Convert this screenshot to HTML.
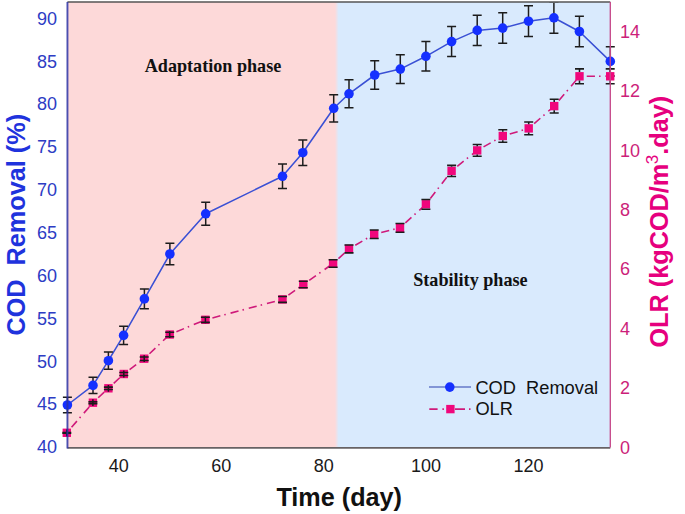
<!DOCTYPE html><html><head><meta charset="utf-8"><style>
html,body{margin:0;padding:0;background:#fff;overflow:hidden;}
svg{display:block;}
.t{font-family:"Liberation Sans",sans-serif;}
.s{font-family:"Liberation Serif",serif;font-weight:bold;}
</style></head><body>
<svg width="685" height="514" viewBox="0 0 685 514">
<defs><clipPath id="c"><rect x="40" y="2.6" width="620" height="470"/></clipPath><linearGradient id="bg" gradientUnits="userSpaceOnUse" x1="335" y1="0" x2="338.6" y2="0"><stop offset="0" stop-color="#fdd9d9"/><stop offset="1" stop-color="#d9eafd"/></linearGradient></defs>
<rect x="67.4" y="2" width="542.9" height="445.6" fill="url(#bg)"/>
<text class="s" x="144.7" y="71.6" font-size="18.15" fill="#111">Adaptation phase</text>
<text class="s" x="413.2" y="286" font-size="18.15" fill="#111">Stability phase</text>
<g clip-path="url(#c)">
<polyline points="67.4,405 93,385.4 108.4,360.7 123.6,335.4 144.4,298.9 169.9,254 205.7,213.8 282.5,176.3 302.8,152.7 333.7,108.3 349,93.8 374.7,75 400.3,69.1 425.9,56.3 451.6,41.6 477.2,30.4 502.7,28.1 528.5,21.2 553.9,17.8 579.4,31.5 610.3,61.4" fill="none" stroke="#3a50d4" stroke-width="1.55" stroke-linejoin="round"/>
<path d="M67.4,397.29V412.71M62.9,397.29H71.9M62.9,412.71H71.9M93,377.3V393.5M88.5,377.3H97.5M88.5,393.5H97.5M108.4,352.11V369.29M103.9,352.11H112.9M103.9,369.29H112.9M123.6,326.3V344.5M119.1,326.3H128.1M119.1,344.5H128.1M144.4,289.07V308.73M139.9,289.07H148.9M139.9,308.73H148.9M169.9,243.27V264.73M165.4,243.27H174.4M165.4,264.73H174.4M205.7,202.27V225.33M201.2,202.27H210.2M201.2,225.33H210.2M282.5,164.02V188.58M278,164.02H287M278,188.58H287M302.8,139.95V165.45M298.3,139.95H307.3M298.3,165.45H307.3M333.7,94.66V121.94M329.2,94.66H338.2M329.2,121.94H338.2M349,79.87V107.73M344.5,79.87H353.5M344.5,107.73H353.5M374.7,60.69V89.31M370.2,60.69H379.2M370.2,89.31H379.2M400.3,54.67V83.53M395.8,54.67H404.8M395.8,83.53H404.8M425.9,41.62V70.98M421.4,41.62H430.4M421.4,70.98H430.4M451.6,26.62V56.58M447.1,26.62H456.1M447.1,56.58H456.1M477.2,15.2V45.6M472.7,15.2H481.7M472.7,45.6H481.7M502.7,12.85V43.35M498.2,12.85H507.2M498.2,43.35H507.2M528.5,5.82V36.58M524,5.82H533M524,36.58H533M553.9,2.35V33.25M549.4,2.35H558.4M549.4,33.25H558.4M579.4,16.32V46.68M574.9,16.32H583.9M574.9,46.68H583.9M610.3,46.82V75.98M605.8,46.82H614.8M605.8,75.98H614.8" stroke="#1c1c1c" stroke-width="1.5" fill="none"/>
<circle cx="67.4" cy="405" r="4.8" fill="#1530ff"/>
<circle cx="93" cy="385.4" r="4.8" fill="#1530ff"/>
<circle cx="108.4" cy="360.7" r="4.8" fill="#1530ff"/>
<circle cx="123.6" cy="335.4" r="4.8" fill="#1530ff"/>
<circle cx="144.4" cy="298.9" r="4.8" fill="#1530ff"/>
<circle cx="169.9" cy="254" r="4.8" fill="#1530ff"/>
<circle cx="205.7" cy="213.8" r="4.8" fill="#1530ff"/>
<circle cx="282.5" cy="176.3" r="4.8" fill="#1530ff"/>
<circle cx="302.8" cy="152.7" r="4.8" fill="#1530ff"/>
<circle cx="333.7" cy="108.3" r="4.8" fill="#1530ff"/>
<circle cx="349" cy="93.8" r="4.8" fill="#1530ff"/>
<circle cx="374.7" cy="75" r="4.8" fill="#1530ff"/>
<circle cx="400.3" cy="69.1" r="4.8" fill="#1530ff"/>
<circle cx="425.9" cy="56.3" r="4.8" fill="#1530ff"/>
<circle cx="451.6" cy="41.6" r="4.8" fill="#1530ff"/>
<circle cx="477.2" cy="30.4" r="4.8" fill="#1530ff"/>
<circle cx="502.7" cy="28.1" r="4.8" fill="#1530ff"/>
<circle cx="528.5" cy="21.2" r="4.8" fill="#1530ff"/>
<circle cx="553.9" cy="17.8" r="4.8" fill="#1530ff"/>
<circle cx="579.4" cy="31.5" r="4.8" fill="#1530ff"/>
<circle cx="610.3" cy="61.4" r="4.8" fill="#1530ff"/>
<path d="M66.8,432.8L92.9,402.7" fill="none" stroke="#cf1a7a" stroke-width="1.6" stroke-dasharray="8.2 4.1 1.5 5.0" stroke-dashoffset="11.55"/>
<path d="M92.9,402.7L108.4,388.3" fill="none" stroke="#cf1a7a" stroke-width="1.6" stroke-dasharray="8.2 4.1 1.5 5.0" stroke-dashoffset="11.55"/>
<path d="M108.4,388.3L123.8,374" fill="none" stroke="#cf1a7a" stroke-width="1.6" stroke-dasharray="8.2 4.1 1.5 5.0" stroke-dashoffset="11.55"/>
<path d="M123.8,374L144.2,358.7" fill="none" stroke="#cf1a7a" stroke-width="1.6" stroke-dasharray="8.2 4.1 1.5 5.0" stroke-dashoffset="11.55"/>
<path d="M144.2,358.7L169.7,334.5" fill="none" stroke="#cf1a7a" stroke-width="1.6" stroke-dasharray="8.2 4.1 1.5 5.0" stroke-dashoffset="11.55"/>
<path d="M169.7,334.5L205.4,319.8" fill="none" stroke="#cf1a7a" stroke-width="1.6" stroke-dasharray="8.2 4.1 1.5 5.0" stroke-dashoffset="11.55"/>
<path d="M205.4,319.8L282.5,299.4" fill="none" stroke="#cf1a7a" stroke-width="1.6" stroke-dasharray="8.2 4.1 1.5 5.0" stroke-dashoffset="11.55"/>
<path d="M282.5,299.4L303.3,284.5" fill="none" stroke="#cf1a7a" stroke-width="1.6" stroke-dasharray="8.2 4.1 1.5 5.0" stroke-dashoffset="11.55"/>
<path d="M303.3,284.5L333.1,263.5" fill="none" stroke="#cf1a7a" stroke-width="1.6" stroke-dasharray="8.2 4.1 1.5 5.0" stroke-dashoffset="11.55"/>
<path d="M333.1,263.5L349,248.9" fill="none" stroke="#cf1a7a" stroke-width="1.6" stroke-dasharray="8.2 4.1 1.5 5.0" stroke-dashoffset="11.55"/>
<path d="M349,248.9L374.2,234.2" fill="none" stroke="#cf1a7a" stroke-width="1.6" stroke-dasharray="8.2 4.1 1.5 5.0" stroke-dashoffset="11.55"/>
<path d="M374.2,234.2L400,227.8" fill="none" stroke="#cf1a7a" stroke-width="1.6" stroke-dasharray="8.2 4.1 1.5 5.0" stroke-dashoffset="11.55"/>
<path d="M400,227.8L425.9,204.3" fill="none" stroke="#cf1a7a" stroke-width="1.6" stroke-dasharray="8.2 4.1 1.5 5.0" stroke-dashoffset="11.55"/>
<path d="M425.9,204.3L451.6,170.9" fill="none" stroke="#cf1a7a" stroke-width="1.6" stroke-dasharray="8.2 4.1 1.5 5.0" stroke-dashoffset="11.55"/>
<path d="M451.6,170.9L477.2,150.4" fill="none" stroke="#cf1a7a" stroke-width="1.6" stroke-dasharray="8.2 4.1 1.5 5.0" stroke-dashoffset="11.55"/>
<path d="M477.2,150.4L502.8,136" fill="none" stroke="#cf1a7a" stroke-width="1.6" stroke-dasharray="8.2 4.1 1.5 5.0" stroke-dashoffset="11.55"/>
<path d="M502.8,136L528.7,128.4" fill="none" stroke="#cf1a7a" stroke-width="1.6" stroke-dasharray="8.2 4.1 1.5 5.0" stroke-dashoffset="11.55"/>
<path d="M528.7,128.4L554.2,106.1" fill="none" stroke="#cf1a7a" stroke-width="1.6" stroke-dasharray="8.2 4.1 1.5 5.0" stroke-dashoffset="11.55"/>
<path d="M554.2,106.1L579.5,76.3" fill="none" stroke="#cf1a7a" stroke-width="1.6" stroke-dasharray="8.2 4.1 1.5 5.0" stroke-dashoffset="11.55"/>
<path d="M579.5,76.3L610.2,76.3" fill="none" stroke="#cf1a7a" stroke-width="1.6" stroke-dasharray="8.2 4.1 1.5 5.0" stroke-dashoffset="11.55"/>
<rect x="62.6" y="428.6" width="8.4" height="8.4" fill="#f0077c"/>
<rect x="88.7" y="398.5" width="8.4" height="8.4" fill="#f0077c"/>
<rect x="104.2" y="384.1" width="8.4" height="8.4" fill="#f0077c"/>
<rect x="119.6" y="369.8" width="8.4" height="8.4" fill="#f0077c"/>
<rect x="140" y="354.5" width="8.4" height="8.4" fill="#f0077c"/>
<rect x="165.5" y="330.3" width="8.4" height="8.4" fill="#f0077c"/>
<rect x="201.2" y="315.6" width="8.4" height="8.4" fill="#f0077c"/>
<rect x="278.3" y="295.2" width="8.4" height="8.4" fill="#f0077c"/>
<rect x="299.1" y="280.3" width="8.4" height="8.4" fill="#f0077c"/>
<rect x="328.9" y="259.3" width="8.4" height="8.4" fill="#f0077c"/>
<rect x="344.8" y="244.7" width="8.4" height="8.4" fill="#f0077c"/>
<rect x="370" y="230" width="8.4" height="8.4" fill="#f0077c"/>
<rect x="395.8" y="223.6" width="8.4" height="8.4" fill="#f0077c"/>
<rect x="421.7" y="200.1" width="8.4" height="8.4" fill="#f0077c"/>
<rect x="447.4" y="166.7" width="8.4" height="8.4" fill="#f0077c"/>
<rect x="473" y="146.2" width="8.4" height="8.4" fill="#f0077c"/>
<rect x="498.6" y="131.8" width="8.4" height="8.4" fill="#f0077c"/>
<rect x="524.5" y="124.2" width="8.4" height="8.4" fill="#f0077c"/>
<rect x="550" y="101.9" width="8.4" height="8.4" fill="#f0077c"/>
<rect x="575.3" y="72.1" width="8.4" height="8.4" fill="#f0077c"/>
<rect x="606" y="72.1" width="8.4" height="8.4" fill="#f0077c"/>
<path d="M62.3,432.5H71.3M62.3,433.1H71.3M88.4,401.8H97.4M88.4,403.6H97.4M103.9,387.11H112.9M103.9,389.49H112.9M119.3,372.53H128.3M119.3,375.47H128.3M139.7,356.92H148.7M139.7,360.48H148.7M165.2,332.24H174.2M165.2,336.76H174.2M200.9,317.24H209.9M200.9,322.36H209.9M278,296.44H287M278,302.36H287M298.8,281.24H307.8M298.8,287.76H307.8M328.6,259.82H337.6M328.6,267.18H337.6M344.5,244.93H353.5M344.5,252.87H353.5M369.7,229.93H378.7M369.7,238.47H378.7M374.2,229.93V230M374.2,238.47V238.4M395.5,223.4H404.5M395.5,232.2H404.5M400,223.4V223.6M400,232.2V232M421.4,199.43H430.4M421.4,209.17H430.4M425.9,199.43V200.1M425.9,209.17V208.5M447.1,165.37H456.1M447.1,176.43H456.1M451.6,165.37V166.7M451.6,176.43V175.1M472.7,144.46H481.7M472.7,156.34H481.7M477.2,144.46V146.2M477.2,156.34V154.6M498.3,129.77H507.3M498.3,142.23H507.3M502.8,129.77V131.8M502.8,142.23V140.2M524.2,122.02H533.2M524.2,134.78H533.2M528.7,122.02V124.2M528.7,134.78V132.6M549.7,99.27H558.7M549.7,112.93H558.7M554.2,99.27V101.9M554.2,112.93V110.3M575,68.87H584M575,83.73H584M579.5,68.87V72.1M579.5,83.73V80.5M605.7,68.87H614.7M605.7,83.73H614.7M610.2,68.87V72.1M610.2,83.73V80.5" stroke="#1c1c1c" stroke-width="1.55" fill="none"/>
<path d="M66.8,429.4V436.2M92.9,399.3V406.1M108.4,384.9V391.7M123.8,370.6V377.4M144.2,355.3V362.1M169.7,331.1V337.9M205.4,316.4V323.2" stroke="#1c1c1c" stroke-width="1.5" fill="none"/>
</g>
<line x1="67.4" y1="2" x2="610.3" y2="2" stroke="#555" stroke-width="1.5"/>
<line x1="67.4" y1="447.8" x2="610.3" y2="447.8" stroke="#676264" stroke-width="1.7"/>
<line x1="67.45" y1="2" x2="67.45" y2="448.6" stroke="#2c33a4" stroke-width="1.9" stroke-opacity="0.85"/>
<line x1="610.3" y1="2" x2="610.3" y2="447.6" stroke="#c64a8a" stroke-width="1.35"/>
<text class="t" x="57" y="453.2" font-size="18" fill="#2d3cc4" text-anchor="end">40</text>
<text class="t" x="57" y="410.35" font-size="18" fill="#2d3cc4" text-anchor="end">45</text>
<text class="t" x="57" y="367.51" font-size="18" fill="#2d3cc4" text-anchor="end">50</text>
<text class="t" x="57" y="324.66" font-size="18" fill="#2d3cc4" text-anchor="end">55</text>
<text class="t" x="57" y="281.82" font-size="18" fill="#2d3cc4" text-anchor="end">60</text>
<text class="t" x="57" y="238.97" font-size="18" fill="#2d3cc4" text-anchor="end">65</text>
<text class="t" x="57" y="196.12" font-size="18" fill="#2d3cc4" text-anchor="end">70</text>
<text class="t" x="57" y="153.28" font-size="18" fill="#2d3cc4" text-anchor="end">75</text>
<text class="t" x="57" y="110.43" font-size="18" fill="#2d3cc4" text-anchor="end">80</text>
<text class="t" x="57" y="67.58" font-size="18" fill="#2d3cc4" text-anchor="end">85</text>
<text class="t" x="57" y="24.74" font-size="18" fill="#2d3cc4" text-anchor="end">90</text>
<text class="t" x="620" y="453.7" font-size="18" fill="#cc1f7a">0</text>
<text class="t" x="620" y="394.29" font-size="18" fill="#cc1f7a">2</text>
<text class="t" x="620" y="334.87" font-size="18" fill="#cc1f7a">4</text>
<text class="t" x="620" y="275.46" font-size="18" fill="#cc1f7a">6</text>
<text class="t" x="620" y="216.05" font-size="18" fill="#cc1f7a">8</text>
<text class="t" x="620" y="156.63" font-size="18" fill="#cc1f7a">10</text>
<text class="t" x="620" y="97.22" font-size="18" fill="#cc1f7a">12</text>
<text class="t" x="620" y="37.81" font-size="18" fill="#cc1f7a">14</text>
<text class="t" x="118.82" y="471.6" font-size="18" fill="#1a1a1a" text-anchor="middle">40</text>
<text class="t" x="221.25" y="471.6" font-size="18" fill="#1a1a1a" text-anchor="middle">60</text>
<text class="t" x="323.68" y="471.6" font-size="18" fill="#1a1a1a" text-anchor="middle">80</text>
<text class="t" x="426.12" y="471.6" font-size="18" fill="#1a1a1a" text-anchor="middle">100</text>
<text class="t" x="528.55" y="471.6" font-size="18" fill="#1a1a1a" text-anchor="middle">120</text>
<text class="t" x="339.2" y="506.3" font-size="25.2" font-weight="bold" fill="#111" text-anchor="middle">Time (day)</text>
<text class="t" transform="translate(24.6,224.7) rotate(-90)" font-size="25.25" font-weight="bold" fill="#1f33dd" text-anchor="middle" xml:space="preserve">COD  Removal (%)</text>
<text class="t" transform="translate(668.1,221.7) rotate(-90)" font-size="25.25" font-weight="bold" fill="#e6007e" text-anchor="middle">OLR (kgCOD/m<tspan font-size="17" font-weight="normal" dx="-0.5" dy="-10.3">3</tspan><tspan dy="10.3">.day)</tspan></text>
<line x1="429" y1="387.1" x2="471" y2="387.1" stroke="#6478c8" stroke-width="1.5"/>
<circle cx="449.8" cy="387.1" r="4.8" fill="#1530ff"/>
<path d="M429.3,409.1H437.6M442.4,409.1H443.9M455,409.1H465M469,409.1H470.5" stroke="#cf1a7a" stroke-width="1.7" fill="none"/>
<rect x="446.2" y="404.9" width="8.4" height="8.4" fill="#f0077c"/>
<text class="t" x="475.4" y="393.5" font-size="18.25" fill="#111" xml:space="preserve">COD  Removal</text>
<text class="t" x="475.4" y="414.6" font-size="18.25" fill="#111">OLR</text>
</svg></body></html>
